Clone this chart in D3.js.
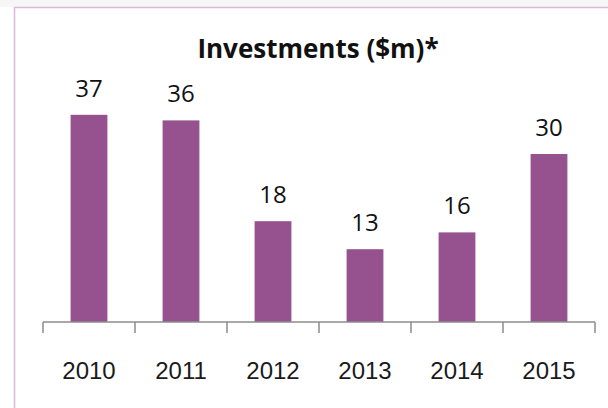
<!DOCTYPE html>
<head>
  <meta charset="utf-8">
  <style>
    body { margin: 0; background: #fff; }
    svg text { font-family: "Open Sans", sans-serif; }
  </style>
</head>
<body>
  <svg width="608" height="408" id="chart"></svg>
  <script src="https://d3js.org/d3.v7.min.js"></script>
  <script>
    // data
    let years = ["2010", "2011", "2012", "2013", "2014", "2015"];
    let investments = [37, 36, 18, 13, 16, 30];
    let title = "Investments ($m)*";

    let svg = d3.select("#chart"),
        width = +svg.attr("width"),
        height = +svg.attr("height");

    // faint strip above frame + the frame itself
    svg.append("rect")
        .attr("x", 0).attr("y", 0).attr("width", width).attr("height", 7)
        .style("fill", "#f6f6f6");
    svg.append("rect")
        .attr("x", 14.5).attr("y", 7.5).attr("width", width).attr("height", height)
        .style("fill", "#fff")
        .style("stroke", "#dcb8de")
        .style("stroke-width", 1.5);

    let x = d3.scaleBand()
        .domain(years)
        .range([43, 595])
        .paddingInner(0.6)
        .paddingOuter(0.3);

    let y = d3.scaleLinear()
        .domain([0, 40])
        .range([322, 98]);

    let g = svg.append("g");

    g.selectAll(".bar")
      .data(investments)
      .enter().append("rect")
        .attr("class", "bar")
        .attr("x", (d, i) => x(years[i]))
        .attr("y", d => y(d))
        .attr("width", x.bandwidth())
        .attr("height", d => y(0) - y(d))
        .style("fill", "#95528f");

    g.selectAll(".val")
      .data(investments)
      .enter().append("text")
        .attr("class", "val")
        .attr("x", (d, i) => x(years[i]) + x.bandwidth() / 2)
        .attr("y", d => y(d) - 18)
        .attr("text-anchor", "middle")
        .style("font-size", "24px")
        .style("fill", "#111")
        .text(d => d);

    // category axis with ticks on the band edges
    let axis = svg.append("g")
        .attr("transform", "translate(0," + y(0) + ")");
    axis.append("line")
        .attr("x1", 43).attr("x2", 595)
        .style("stroke", "#8c8c8c").style("stroke-width", 1.5);
    let edges = years.map(d => x(d) - x.step() * x.paddingInner() / 2).concat([595]);
    edges[0] = 43;
    axis.selectAll(".tick")
      .data(edges)
      .enter().append("line")
        .attr("x1", d => d).attr("x2", d => d)
        .attr("y1", 0).attr("y2", 11)
        .style("stroke", "#8c8c8c").style("stroke-width", 1.5);
    axis.selectAll(".lbl")
      .data(years)
      .enter().append("text")
        .attr("x", d => x(d) + x.bandwidth() / 2)
        .attr("y", 57)
        .attr("text-anchor", "middle")
        .style("font-family", "'Liberation Sans', Arial, sans-serif")
        .style("font-size", "24px")
        .style("fill", "#1a1a1a")
        .text(d => d);

    svg.append("text")
        .attr("x", 318)
        .attr("y", 58)
        .attr("text-anchor", "middle")
        .style("font-size", "26px")
        .style("font-weight", "bold")
        .style("fill", "#111")
        .text(title);
  </script>
</body>
